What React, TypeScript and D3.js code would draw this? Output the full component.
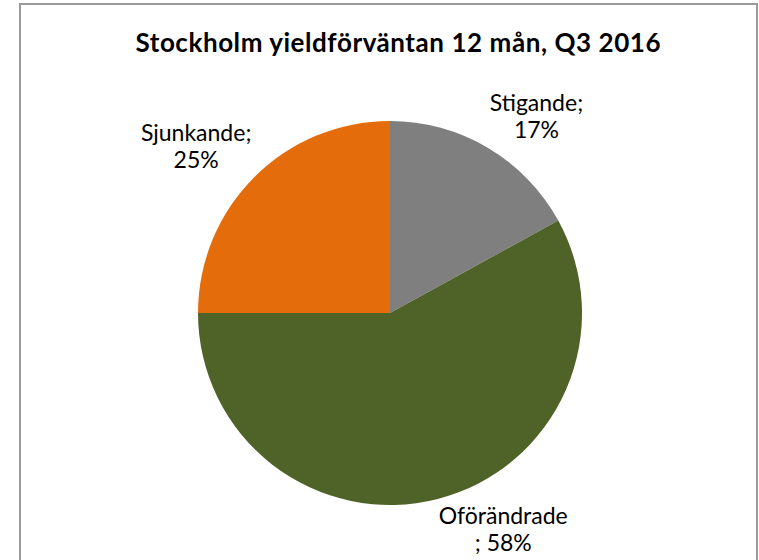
import React from "react";
import * as d3 from "d3";

const categories = ["Stigande", "Oförändrade", "Sjunkande"];
const values = [17, 58, 25];
const colors = ["#7F7F7F", "#4F6228", "#E46C0A"];
const labelLines = [["Stigande;", "17%"], ["Oförändrade", "; 58%"], ["Sjunkande;", "25%"]];
const title = "Stockholm yieldförväntan 12 mån, Q3 2016";

const W = 759;
const H = 560;
const cx = 390;
const cy = 313;
const R = 192;
const FONT = "Lato, 'Open Sans', sans-serif";
const LABEL_SIZE = 23;
const LINE_H = 27;

let ctx: CanvasRenderingContext2D | null = null;
function measure(t: string, font: string) {
  if (!ctx) ctx = document.createElement("canvas").getContext("2d");
  if (!ctx) return t.length * 11;
  ctx.font = font;
  return ctx.measureText(t).width;
}

export default function App() {
  const pie = d3.pie<number>().sort(null).value((d) => d);
  const arcs = pie(values);
  const arc = d3.arc<d3.PieArcDatum<number>>().innerRadius(0).outerRadius(R);

  return (
    <svg width={W} height={H} style={{ position: "absolute", left: 0, top: 0, background: "#fff" }}>
      <rect x={20} y={4} width={737} height={H + 10} fill="#fff" stroke="#9a9a9a" strokeWidth={2} />
      <text
        x={398}
        y={52}
        textAnchor="middle"
        fontFamily={FONT}
        fontWeight="bold"
        fontSize={26}
        fill="#000"
        textLength={525}
        lengthAdjust="spacing"
      >
        {title}
      </text>
      <g transform={`translate(${cx},${cy})`}>
        {arcs.map((a, i) => (
          <path key={categories[i]} d={arc(a) || ""} fill={colors[i]} />
        ))}
        {arcs.map((a, i) => {
          const mid = (a.startAngle + a.endAngle) / 2;
          const rr = R + 4;
          const ax = Math.sin(mid) * rr;
          const ay = -Math.cos(mid) * rr;
          const lines = labelLines[i];
          const bw = Math.max(...lines.map((l) => measure(l, `${LABEL_SIZE}px ${FONT}`)));
          const bh = lines.length * LINE_H;
          const centerX = Math.sin(mid) >= 0 ? ax + bw / 2 : ax - bw / 2;
          const top = Math.cos(mid) >= 0 ? ay - bh : ay;
          return (
            <text key={"l" + i} textAnchor="middle" fontFamily={FONT} fontSize={LABEL_SIZE} fill="#000">
              {lines.map((l, j) => (
                <tspan key={j} x={centerX} y={top + LINE_H * j + 21}>
                  {l}
                </tspan>
              ))}
            </text>
          );
        })}
      </g>
    </svg>
  );
}
